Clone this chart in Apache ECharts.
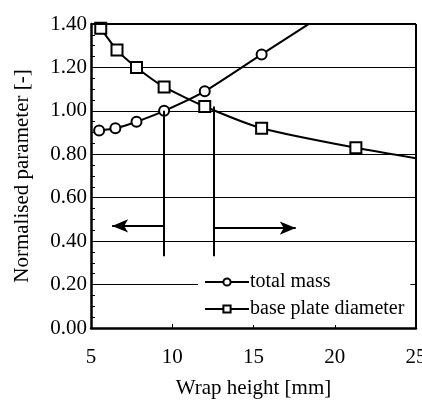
<!DOCTYPE html>
<html>
<head>
	<meta charset="utf-8">
	<script type="text/javascript" src="https://cdn.jsdelivr.net/npm/echarts@6/dist/echarts.min.js"></script>
</head>
<body style="margin:0;background:#fff">

<div id="main" style="width:422px;height:400px"></div>

<script type="text/javascript">
  // wrap height [mm] of the computed points
  var massX = [5.5, 6.5, 7.8, 9.5, 12.0, 15.5, 21.5];
  var massY = [0.91, 0.92, 0.95, 1.00, 1.09, 1.26, 1.55];
  var plateX = [5.6, 6.6, 7.8, 9.5, 12.0, 15.5, 21.3, 27.5];
  var plateY = [1.38, 1.28, 1.20, 1.11, 1.02, 0.92, 0.83, 0.75];
  // limits of the feasible range and the arrows
  var leftLimit = [[9.45, 1.00], [9.45, 0.33]];
  var rightLimit = [[12.55, 1.02], [12.55, 0.33]];
  var leftArrow = [[9.45, 0.47], [6.3, 0.47]];
  var rightArrow = [[12.55, 0.46], [17.6, 0.46]];

  var font = 'Liberation Serif';

  function pairs(xs, ys) {
    return xs.map(function (x, i) { return [x, ys[i]]; });
  }
  function seg(p) {
    return [{ coord: p[0] }, { coord: p[1] }];
  }

  var chart = echarts.init(document.getElementById('main'));

  var option = {
    animation: false,
    grid: { left: 91, right: 6, top: 24, bottom: 72, outerBoundsMode: 'none', containLabel: false },
    legend: {
      orient: 'vertical',
      left: 198,
      top: 270,
      z: 1,
      padding: [2, 6, 6, 6],
      backgroundColor: '#fff',
      itemWidth: 44,
      itemHeight: 9,
      itemGap: 7,
      textStyle: { fontFamily: font, fontSize: 20, color: '#000', padding: [0, 0, 0, -4] },
      data: ['total mass', 'base plate diameter']
    },
    xAxis: {
      type: 'value',
      min: 5, max: 25, interval: 5,
      name: 'Wrap height [mm]',
      nameLocation: 'middle',
      nameGap: 50,
      nameTextStyle: { fontFamily: font, fontSize: 21, color: '#000' },
      axisLine: { lineStyle: { color: '#000', width: 2.5 } },
      axisTick: { inside: true, length: 4, lineStyle: { color: '#000' } },
      axisLabel: { fontFamily: font, fontSize: 21, color: '#000', margin: 19 },
      splitLine: { show: false }
    },
    yAxis: {
      type: 'value',
      min: 0, max: 1.4, interval: 0.2,
      name: 'Normalised parameter [-]',
      nameLocation: 'middle',
      nameGap: 58,
      nameTextStyle: { fontFamily: font, fontSize: 21, color: '#000' },
      axisLine: { lineStyle: { color: '#000', width: 2.5 } },
      axisTick: { inside: true, length: 6, lineStyle: { color: '#000' } },
      minorTick: { show: true, splitNumber: 4, length: 4, lineStyle: { color: '#000' } },
      axisLabel: {
        fontFamily: font, fontSize: 21, color: '#000', margin: 4,
        formatter: function (v) { return v.toFixed(2); }
      },
      splitLine: { show: true, lineStyle: { color: '#000', width: 1.2 } }
    },
    series: [
      {
        name: 'total mass',
        type: 'line',
        data: pairs(massX, massY),
        clip: true,
        smooth: 0.2,
        symbol: 'circle',
        symbolSize: 10,
        lineStyle: { color: '#000', width: 2 },
        itemStyle: { color: '#fff', borderColor: '#000', borderWidth: 2 },
        z: 3
      },
      {
        name: 'base plate diameter',
        type: 'line',
        data: pairs(plateX, plateY),
        clip: true,
        smooth: 0.2,
        symbol: 'rect',
        symbolSize: 11,
        lineStyle: { color: '#000', width: 2 },
        itemStyle: { color: '#fff', borderColor: '#000', borderWidth: 2 },
        z: 3,
        markLine: {
          silent: true,
          symbol: ['none', 'none'],
          label: { show: false },
          lineStyle: { color: '#000', width: 2, type: 'solid' },
          data: [seg(leftLimit), seg(rightLimit)]
        }
      },
      {
        type: 'line',
        data: [],
        markLine: {
          silent: true,
          symbol: ['none', 'arrow'],
          symbolSize: [10, 16],
          label: { show: false },
          lineStyle: { color: '#000', width: 2, type: 'solid' },
          data: [seg(leftArrow), seg(rightArrow)]
        }
      },
      {
        // plot frame: top and right borders
        type: 'line',
        data: [],
        z: 10,
        markLine: {
          silent: true,
          symbol: ['none', 'none'],
          label: { show: false },
          lineStyle: { color: '#000', width: 2, type: 'solid' },
          data: [
            [{ coord: [5, 1.4] }, { coord: [25, 1.4] }],
            [{ coord: [25, 1.4] }, { coord: [25, 0] }]
          ]
        }
      }
    ]
  };

  chart.setOption(option);
</script>
</body>
</html>
